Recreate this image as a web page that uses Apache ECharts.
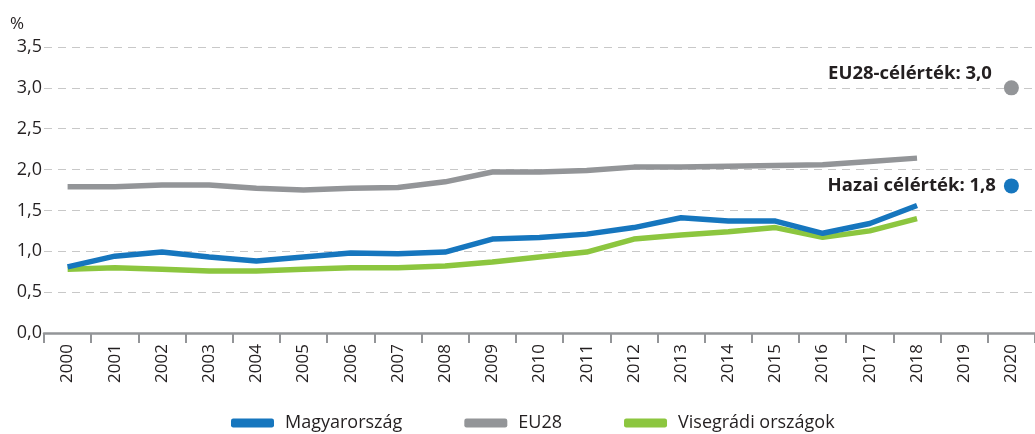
<!DOCTYPE html>
<html><head><meta charset="utf-8">
<script src="https://cdn.jsdelivr.net/npm/echarts@6/dist/echarts.min.js"></script>
<style>html,body{margin:0;padding:0;background:#fff}#c{width:1035px;height:434px}</style>
</head><body><div id="c"></div>
<script>
const years = ['2000','2001','2002','2003','2004','2005','2006','2007','2008','2009','2010','2011','2012','2013','2014','2015','2016','2017','2018','2019','2020'];
const magyar = [0.81,0.94,0.99,0.93,0.88,0.93,0.98,0.97,0.99,1.15,1.17,1.21,1.29,1.41,1.37,1.37,1.22,1.34,1.56];
const eu28 = [1.79,1.79,1.81,1.81,1.77,1.75,1.77,1.78,1.85,1.97,1.97,1.99,2.03,2.03,2.04,2.05,2.06,2.10,2.14];
const visegrad = [0.78,0.80,0.78,0.76,0.76,0.78,0.80,0.80,0.82,0.87,0.93,0.99,1.15,1.20,1.24,1.29,1.17,1.25,1.40];
const euTarget = 3.0, huTarget = 1.8;
const targetYear = '2020';
const yTicks = [0,0.5,1,1.5,2,2.5,3,3.5];

const FONT = '"Open Sans", "Noto Sans", sans-serif';
const BLUE = '#1676be', GRAY = '#939598', GREEN = '#8cc63f';
const fmt = v => v.toFixed(1).replace('.', ',');
const tIdx = years.indexOf(targetYear);
const single = v => years.map((y,i) => i === tIdx ? v : null);

const chart = echarts.init(document.getElementById('c'), null, {renderer:'canvas'});
chart.setOption({
  animation:false,
  textStyle:{fontFamily:FONT},
  grid:{left:44,right:0,top:47,bottom:101,containLabel:false},
  legend:{
    bottom:-3, left:226, itemWidth:43, itemHeight:9, itemGap:62,
    icon:'roundRect',
    textStyle:{fontFamily:FONT,fontSize:18,color:'#231f20',padding:[0,0,0,6]},
    data:['Magyarország','EU28','Visegrádi országok']
  },
  xAxis:{
    type:'category', data:years, boundaryGap:true,
    axisLine:{lineStyle:{color:GRAY,width:2.5}},
    axisTick:{show:true,length:10,lineStyle:{color:GRAY,width:2}},
    axisLabel:{rotate:90,fontSize:17,color:'#231f20',margin:11,fontFamily:FONT}
  },
  yAxis:{
    type:'value', min:yTicks[0], max:yTicks[yTicks.length-1], interval:0.5,
    name:'%', nameLocation:'end', nameGap:14,
    nameTextStyle:{fontSize:17,color:'#231f20',align:'right',padding:[0,20,0,0],fontFamily:FONT},
    axisLine:{show:false}, axisTick:{show:false},
    axisLabel:{fontSize:18,color:'#231f20',margin:2,formatter:fmt,fontFamily:FONT},
    splitLine:{lineStyle:{color:'#c8c8c8',type:[8,6],width:1.2}}
  },
  series:[
    {name:'EU28',type:'line',data:eu28,symbol:'none',lineStyle:{color:GRAY,width:5.5},itemStyle:{color:GRAY},z:2},
    {name:'Visegrádi országok',type:'line',data:visegrad,symbol:'none',lineStyle:{color:GREEN,width:5.5},itemStyle:{color:GREEN},z:3},
    {name:'Magyarország',type:'line',data:magyar,symbol:'none',lineStyle:{color:BLUE,width:5.5},itemStyle:{color:BLUE},z:4},
    {name:'euTarget',type:'scatter',data:single(euTarget),symbolSize:15,itemStyle:{color:GRAY,opacity:1},
     label:{show:true,position:'left',distance:12,offset:[0,-14],fontWeight:'bold',fontSize:18.5,color:'#231f20',fontFamily:FONT,formatter:p=>'EU28-célérték: '+fmt(p.value)}},
    {name:'huTarget',type:'scatter',data:single(huTarget),symbolSize:15,itemStyle:{color:BLUE,opacity:1},
     label:{show:true,position:'left',distance:8,fontWeight:'bold',fontSize:18.5,color:'#231f20',fontFamily:FONT,formatter:p=>'Hazai célérték: '+fmt(p.value)}}
  ]
});
</script></body></html>
